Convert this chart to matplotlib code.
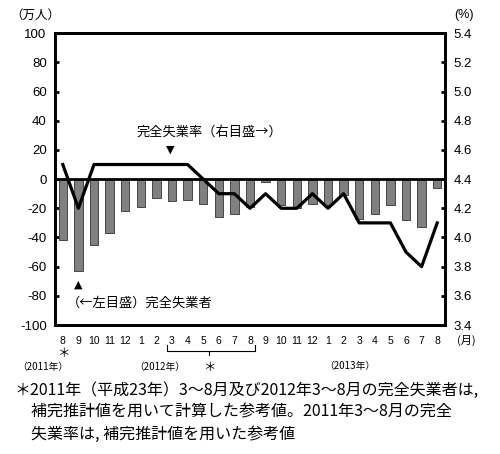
import matplotlib
matplotlib.use("Agg")
import matplotlib.pyplot as plt
import numpy as np

plt.rcParams['font.family'] = ['Liberation Sans', 'Noto Sans CJK JP', 'DejaVu Sans']

months = ["8", "9", "10", "11", "12", "1", "2", "3", "4", "5", "6", "7", "8",
          "9", "10", "11", "12", "1", "2", "3", "4", "5", "6", "7", "8"]
unemployed_change = [-42, -63, -45, -37, -22, -19, -13, -15, -14, -17, -26, -24, -19,
                     -2, -18, -20, -17, -18, -11, -27, -24, -18, -28, -33, -6]
unemployment_rate = [4.5, 4.2, 4.5, 4.5, 4.5, 4.5, 4.5, 4.5, 4.5, 4.4, 4.3, 4.3, 4.2,
                     4.3, 4.2, 4.2, 4.3, 4.2, 4.3, 4.1, 4.1, 4.1, 3.9, 3.8, 4.1]
left_ticks = [100, 80, 60, 40, 20, 0, -20, -40, -60, -80, -100]
right_ticks = [5.4, 5.2, 5.0, 4.8, 4.6, 4.4, 4.2, 4.0, 3.8, 3.6, 3.4]

CJK = ['Noto Sans CJK JP']

fig = plt.figure(figsize=(5.0, 4.54), dpi=100)
ax = fig.add_axes([0.11, 0.284, 0.78, 0.643])
x = np.arange(len(months))

ax.bar(x, unemployed_change, width=0.55, color='#808080', edgecolor='#333333', linewidth=0.6, zorder=2)
ax.axhline(0, color='black', linewidth=2.0, zorder=3)
ax.set_xlim(-0.5, len(months) - 0.5)
ax.set_ylim(-100, 100)
ax.set_yticks(left_ticks)
ax.set_yticklabels([str(t) for t in left_ticks], fontsize=9.5)
ax.set_xticks(x)
ax.set_xticklabels(months, fontsize=7.5)
ax.tick_params(axis='x', length=0, pad=8)
ax.tick_params(axis='y', direction='in', length=3, width=2, pad=6)
for s in ax.spines.values():
    s.set_linewidth(2.0)

ax2 = ax.twinx()
ax2.plot(x, unemployment_rate, color='black', linewidth=2.3, zorder=4)
ax2.set_ylim(3.4, 5.4)
ax2.set_yticks(right_ticks)
ax2.set_yticklabels([f"{t:.1f}" for t in right_ticks], fontsize=9.5)
ax2.tick_params(axis='y', direction='in', length=3, width=2, pad=6)
for s in ax2.spines.values():
    s.set_linewidth(2.0)

# axis unit labels
fig.text(0.02, 0.967, "（万人）", fontsize=9, ha='left', va='center', family=CJK)
fig.text(0.908, 0.967, "(%)", fontsize=9, ha='left', va='center')
fig.text(0.915, 0.25, "(月)", fontsize=8, ha='left', va='center', family=CJK)

# annotations in plot
ax.text(0.21, 0.66, "完全失業率（右目盛→）", transform=ax.transAxes, fontsize=9.5,
        ha='left', va='center', family=CJK)
xt = ax.get_xaxis_transform()
ax.text(6.9, 0.6, "▼", transform=xt, fontsize=8, ha='center', va='center', family=['DejaVu Sans'])
ax.text(1.0, 0.137, "▲", transform=xt, fontsize=8, ha='center', va='center', family=['DejaVu Sans'])
ax.text(0.03, 0.075, "（←左目盛）完全失業者", transform=ax.transAxes, fontsize=9.5,
        ha='left', va='center', family=CJK)

# below axis annotations
ax.text(0, -0.097, "＊", transform=xt, fontsize=9, ha='center', va='center', family=CJK)
ax.text(-1.3, -0.143, "（2011年）", transform=xt, fontsize=7, ha='center', va='center', family=CJK)
ax.text(6.2, -0.145, "（2012年）", transform=xt, fontsize=7, ha='center', va='center', family=CJK)
ax.text(9.4, -0.147, "＊", transform=xt, fontsize=9, ha='center', va='center', family=CJK)
ax.text(18.4, -0.14, "（2013年）", transform=xt, fontsize=7, ha='center', va='center', family=CJK)

# brace under 3-8 (2012)
bx = [6.65, 6.65, 9.4, 9.4, 9.4, 12.35, 12.35]
by = [-0.07, -0.088, -0.088, -0.104, -0.088, -0.088, -0.07]
ax.plot(bx, by, transform=xt, color='black', linewidth=0.8, clip_on=False)

# footnote
fn = ["＊2011年（平成23年）3～8月及び2012年3～8月の完全失業者は,",
      "　補完推計値を用いて計算した参考値。2011年3～8月の完全",
      "　失業率は, 補完推計値を用いた参考値"]
for i, line in enumerate(fn):
    fig.text(0.03, 0.141 - i * 0.0485, line, fontsize=11.5, ha='left', va='center',
             family=CJK)

fig.savefig("out.png", dpi=100)
